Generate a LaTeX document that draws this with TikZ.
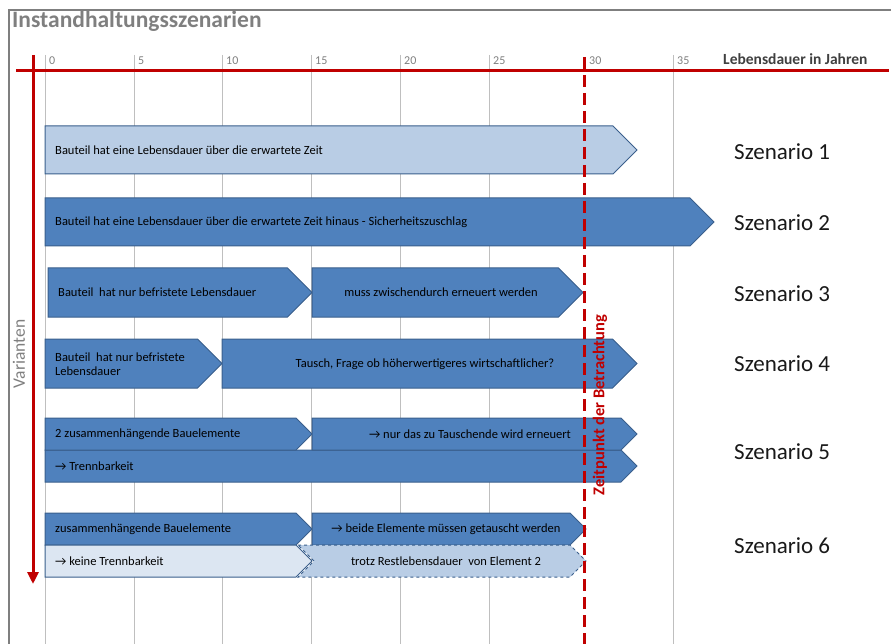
\documentclass[tikz,border=0pt]{standalone}
\usepackage{fontspec}
\setmainfont{Carlito}
\usetikzlibrary{arrows.meta}

\definecolor{blau}{HTML}{4F81BD}
\definecolor{hellblau}{HTML}{B9CDE5}
\definecolor{blassblau}{HTML}{DCE6F2}
\definecolor{rand}{HTML}{3A5F8C}
\definecolor{rot}{HTML}{C00000}
\definecolor{gitter}{HTML}{BFBFBF}
\definecolor{grau}{HTML}{7F7F7F}

% Pfeilbalken: Stil, x links, x Spitze, y oben, y unten
\newcommand\pfeil[5]{\path[#1] (#2,#4) -- ({#3-(#5-#4)/2},#4) -- (#3,{(#4+#5)/2})
  -- ({#3-(#5-#4)/2},#5) -- (#2,#5) -- cycle;}
% dasselbe mit Kerbe links
\newcommand\kerbe[5]{\path[#1] (#2,#4) -- ({#3-(#5-#4)/2},#4) -- (#3,{(#4+#5)/2})
  -- ({#3-(#5-#4)/2},#5) -- (#2,#5) -- ({#2+(#5-#4)/2},{(#4+#5)/2}) -- cycle;}

\begin{document}
\begin{tikzpicture}[x=1pt,y=-1pt,
  balken/.style={fill=blau,draw=rand,line width=1pt},
  hell/.style={fill=hellblau,draw=rand,line width=1pt},
  leer/.style={fill=blassblau,draw=rand,line width=1pt},
  txt/.style={font=\fontsize{12.5}{14}\selectfont,text=black,inner sep=0pt},
  links/.style={txt,anchor=west},
  szen/.style={font=\fontsize{23}{27}\selectfont,text=black!90,inner sep=0pt},
  jahr/.style={font=\fontsize{12}{14}\selectfont,text=grau,anchor=base west,inner sep=0pt}]

  \useasboundingbox (0,0) rectangle (891,644);

  % Rahmen und Titel
  \draw[grau,line width=1.5pt] (9,644) -- (9,10) -- (891,10);
  \node[anchor=west,text=grau,font=\bfseries\fontsize{23.5}{27}\selectfont,inner sep=0pt]
    (titel) at (12,21) {Instandhaltungsszenarien};

  % Zeitraster
  \foreach \j/\x in {0/45,5/134,10/222,15/311,20/400,25/489,35/673}{
    \draw[gitter,line width=1pt] (\x,55) -- (\x,644);
    \node[jahr] (j\j) at (\x+4,65) {\j};
  }
  \node[jahr] (j30) at (589,65) {30};

  % Achsen
  \draw[rot,line width=3pt] (16,71) -- (889,71);
  \draw[rot,line width=3pt,-{Triangle[width=11pt,length=12pt]}] (33,55) -- (33,584);
  \node[anchor=base west,text=black!75,font=\bfseries\fontsize{15.5}{18}\selectfont,inner sep=0pt]
    (achse) at (723,65) {Lebensdauer in Jahren};
  \node[rotate=90,text=grau,font=\fontsize{17.5}{20}\selectfont,inner sep=0pt]
    (var) at (19,354) {Varianten};

  % Szenario 1
  \pfeil{hell}{45}{637}{126}{174}
  \node[links] (b1) at (55,150) {Bauteil hat eine Lebensdauer über die erwartete Zeit};
  % Szenario 2
  \pfeil{balken}{45}{714}{198}{246}
  \node[links] (b2) at (55,222) {Bauteil hat eine Lebensdauer über die erwartete Zeit hinaus - Sicherheitszuschlag};
  % Szenario 3
  \pfeil{balken}{48}{312}{268}{317}
  \pfeil{balken}{312}{583}{268}{317}
  \node[links] (b3a) at (58,292) {Bauteil\ \ hat nur befristete Lebensdauer};
  \node[txt] (b3b) at (441,292) {muss zwischendurch erneuert werden};
  % Szenario 4
  \pfeil{balken}{45}{222}{339}{388}
  \pfeil{balken}{222}{637}{339}{388}
  \node[links,align=left] (b4a) at (55,364) {Bauteil\ \ hat nur befristete\\Lebensdauer};
  \node[txt] (b4b) at (425,364) {Tausch, Frage ob höherwertigeres wirtschaftlicher?};
  % Szenario 5
  \pfeil{balken}{45}{637}{450}{482}
  \pfeil{balken}{45}{312}{418}{450}
  \pfeil{balken}{312}{637}{418}{450}
  \node[links] (b5a) at (55,434) {2 zusammenhängende Bauelemente};
  \node[txt] (b5b) at (470,434) {→ nur das zu Tauschende wird erneuert};
  \node[links] (b5c) at (55,466) {→ Trennbarkeit};
  % Szenario 6
  \pfeil{balken}{45}{312}{513}{545}
  \pfeil{balken}{312}{586}{513}{545}
  \kerbe{hell,dashed}{298}{586}{545}{577}
  \pfeil{leer}{45}{312}{545}{577}
  \node[links] (b6a) at (55,529) {zusammenhängende Bauelemente};
  \node[txt] (b6b) at (446,529) {→ beide Elemente müssen getauscht werden};
  \node[links] (b6c) at (55,561) {→ keine Trennbarkeit};
  \node[txt] (b6d) at (446,561) {trotz Restlebensdauer\ \ von Element 2};

  % Zeitpunkt der Betrachtung
  \draw[rot,line width=3pt,dash pattern=on 12pt off 6pt] (584,57) -- (584,644);
  \node[rotate=90,text=rot,font=\bfseries\fontsize{16.5}{19}\selectfont,inner sep=0pt]
    (zeit) at (600,405) {Zeitpunkt der Betrachtung};

  % Szenarien
  \foreach \n/\y in {1/152,2/223,3/294,4/364,5/452,6/546}
    \node[szen,anchor=west] (s\n) at (734,\y) {Szenario \n};
\end{tikzpicture}
\end{document}
